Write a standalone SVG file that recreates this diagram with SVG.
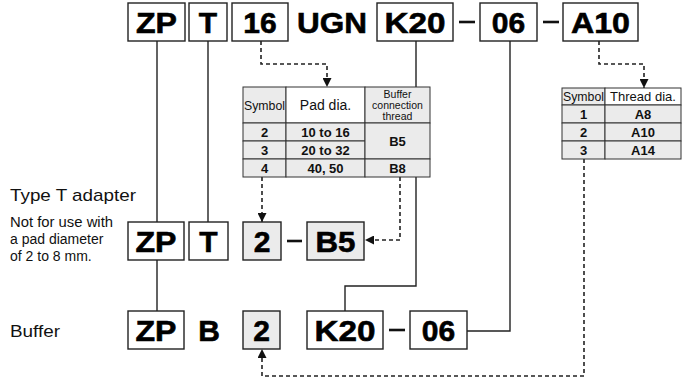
<svg xmlns="http://www.w3.org/2000/svg" width="682" height="380" viewBox="0 0 682 380">
<defs>
<style>
.bx{fill:#fff;stroke:#222;stroke-width:1.4}
.gb{fill:#ebebeb;stroke:#222;stroke-width:1.4}
.lb{font-family:"Liberation Sans",Arial,sans-serif;font-weight:bold;font-size:30px;fill:#000;stroke:#000;stroke-width:0.6;text-anchor:middle}
.ln{fill:none;stroke:#222;stroke-width:1.4}
.dl{fill:none;stroke:#222;stroke-width:1.6;stroke-dasharray:4 3}
.mn{stroke:#111;stroke-width:2.6}
.tx{font-family:"Liberation Sans",Arial,sans-serif;fill:#111}
.th{font-family:"Liberation Sans",Arial,sans-serif;font-size:12px;fill:#111;text-anchor:middle}
.td{font-family:"Liberation Sans",Arial,sans-serif;font-size:13px;font-weight:bold;fill:#111;text-anchor:middle}
.cg{fill:#ebebeb;stroke:#333;stroke-width:1}
.cw{fill:#fff;stroke:#333;stroke-width:1}
</style>
<marker id="ah" viewBox="0 0 10 10" refX="10" refY="5" markerWidth="9" markerHeight="9" markerUnits="userSpaceOnUse" orient="auto">
<path d="M0,0 L10,5 L0,10 z" fill="#111"/>
</marker>
</defs>

<g id="connectors">
<path class="ln" d="M157,41 V222 M157,260 V311"/>
<path class="ln" d="M208,41 V222"/>
<path class="ln" d="M416,41 V286 H345 V311"/>
<path class="ln" d="M510,41 V331 H467"/>
<path class="dl" d="M261,41 V64 H327 V87" marker-end="url(#ah)"/>
<path class="dl" d="M599,41 V64 H644 V88" marker-end="url(#ah)"/>
<path class="dl" d="M262,177 V222" marker-end="url(#ah)"/>
<path class="dl" d="M400,177 V240 H365" marker-end="url(#ah)"/>
<path class="dl" d="M584,159 V376 H262 V349" marker-end="url(#ah)"/>
</g>

<g id="top-row">
<g id="t-zp"><rect class="bx" x="128" y="3" width="57" height="38"/><text class="lb" x="156.5" y="33" textLength="41" lengthAdjust="spacingAndGlyphs">ZP</text></g>
<g id="t-t"><rect class="bx" x="189" y="3" width="38" height="38"/><text class="lb" x="208" y="33">T</text></g>
<g id="t-16"><rect class="bx" x="232" y="3" width="56" height="38"/><text class="lb" x="260" y="33">16</text></g>
<g id="t-ugn"><text class="lb" x="332" y="33" textLength="70" lengthAdjust="spacingAndGlyphs">UGN</text></g>
<g id="t-k20"><rect class="bx" x="377" y="3" width="76" height="38"/><text class="lb" x="415" y="33" textLength="61" lengthAdjust="spacingAndGlyphs">K20</text></g>
<line class="mn" x1="459" y1="22" x2="475" y2="22"/>
<g id="t-06"><rect class="bx" x="480" y="3" width="57" height="38"/><text class="lb" x="508.5" y="33">06</text></g>
<line class="mn" x1="543" y1="22" x2="559" y2="22"/>
<g id="t-a10"><rect class="bx" x="563" y="3" width="75" height="38"/><text class="lb" x="600.5" y="33" textLength="59" lengthAdjust="spacingAndGlyphs">A10</text></g>
</g>

<g id="pad-table">
<rect class="cg" x="243" y="87" width="43" height="36"/>
<rect class="cw" x="286" y="87" width="79" height="36"/>
<rect class="cg" x="365" y="87" width="65" height="36"/>
<rect class="cg" x="243" y="123" width="43" height="18"/>
<rect class="cg" x="286" y="123" width="79" height="18"/>
<rect class="cg" x="243" y="141" width="43" height="18"/>
<rect class="cg" x="286" y="141" width="79" height="18"/>
<rect class="cg" x="365" y="123" width="65" height="36"/>
<rect class="cg" x="243" y="159" width="43" height="18"/>
<rect class="cg" x="286" y="159" width="79" height="18"/>
<rect class="cg" x="365" y="159" width="65" height="18"/>
<text class="th" x="264.5" y="110" textLength="41" lengthAdjust="spacingAndGlyphs">Symbol</text>
<text class="th" x="325.5" y="110" style="font-size:14px">Pad dia.</text>
<text class="th" x="397.5" y="98" style="font-size:10.5px">Buffer</text>
<text class="th" x="397.5" y="109" style="font-size:10.5px">connection</text>
<text class="th" x="397.5" y="120" style="font-size:10.5px">thread</text>
<text class="td" x="264.5" y="137">2</text>
<text class="td" x="325.5" y="137">10 to 16</text>
<text class="td" x="264.5" y="155">3</text>
<text class="td" x="325.5" y="155">20 to 32</text>
<text class="td" x="397.5" y="146">B5</text>
<text class="td" x="264.5" y="173">4</text>
<text class="td" x="325.5" y="173">40, 50</text>
<text class="td" x="397.5" y="173">B8</text>
</g>

<g id="thread-table">
<rect class="cg" x="562" y="88" width="43" height="17"/>
<rect class="cw" x="605" y="88" width="76" height="17"/>
<rect class="cg" x="562" y="105" width="43" height="18"/>
<rect class="cg" x="605" y="105" width="76" height="18"/>
<rect class="cg" x="562" y="123" width="43" height="18"/>
<rect class="cg" x="605" y="123" width="76" height="18"/>
<rect class="cg" x="562" y="141" width="43" height="18"/>
<rect class="cg" x="605" y="141" width="76" height="18"/>
<text class="th" x="583.5" y="101" textLength="41" lengthAdjust="spacingAndGlyphs">Symbol</text>
<text class="th" x="643" y="101" style="font-size:13px">Thread dia.</text>
<text class="td" x="583.5" y="119">1</text>
<text class="td" x="643" y="119">A8</text>
<text class="td" x="583.5" y="137">2</text>
<text class="td" x="643" y="137">A10</text>
<text class="td" x="583.5" y="155">3</text>
<text class="td" x="643" y="155">A14</text>
</g>

<g id="type-t-label">
<text class="tx" x="10" y="201" style="font-size:17px" textLength="126" lengthAdjust="spacingAndGlyphs">Type T adapter</text>
<text class="tx" x="10" y="227" style="font-size:14px" textLength="103" lengthAdjust="spacingAndGlyphs">Not for use with</text>
<text class="tx" x="10" y="244" style="font-size:14px">a pad diameter</text>
<text class="tx" x="10" y="261" style="font-size:14px">of 2 to 8 mm.</text>
</g>

<g id="mid-row">
<g id="m-zp"><rect class="bx" x="128" y="222" width="56" height="38"/><text class="lb" x="156" y="252" textLength="41" lengthAdjust="spacingAndGlyphs">ZP</text></g>
<g id="m-t"><rect class="bx" x="189" y="222" width="39" height="38"/><text class="lb" x="208.5" y="252">T</text></g>
<g id="m-2"><rect class="gb" x="243" y="222" width="38" height="38"/><text class="lb" x="262" y="252">2</text></g>
<line class="mn" x1="287" y1="241" x2="302" y2="241"/>
<g id="m-b5"><rect class="gb" x="307" y="222" width="57" height="38"/><text class="lb" x="335.5" y="252" textLength="40" lengthAdjust="spacingAndGlyphs">B5</text></g>
</g>

<g id="buffer-label"><text class="tx" x="10" y="337" style="font-size:16px" textLength="50" lengthAdjust="spacingAndGlyphs">Buffer</text></g>

<g id="bot-row">
<g id="b-zp"><rect class="bx" x="128" y="311" width="56" height="38"/><text class="lb" x="156" y="341" textLength="41" lengthAdjust="spacingAndGlyphs">ZP</text></g>
<g id="b-b"><text class="lb" x="209" y="341">B</text></g>
<g id="b-2"><rect class="gb" x="243" y="311" width="37" height="38"/><text class="lb" x="261.5" y="341">2</text></g>
<g id="b-k20"><rect class="bx" x="307" y="311" width="76" height="38"/><text class="lb" x="345" y="341" textLength="61" lengthAdjust="spacingAndGlyphs">K20</text></g>
<line class="mn" x1="389" y1="330" x2="405" y2="330"/>
<g id="b-06"><rect class="bx" x="410" y="311" width="57" height="38"/><text class="lb" x="438.5" y="341">06</text></g>
</g>
</svg>
